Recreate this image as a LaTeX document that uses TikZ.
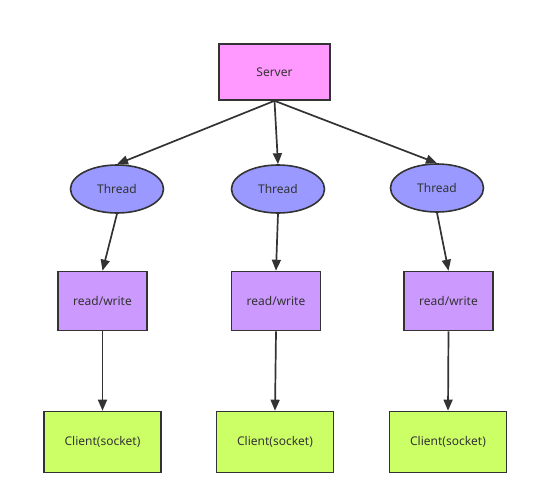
\documentclass[tikz,border=0pt]{standalone}
\usepackage{fontspec}
\setmainfont{Noto Sans}
\usetikzlibrary{arrows.meta,shapes.geometric}
\definecolor{serverpink}{HTML}{FF99FF}
\definecolor{threadblue}{HTML}{9999FF}
\definecolor{rwpurple}{HTML}{CC99FF}
\definecolor{clientgreen}{HTML}{CCFF66}
\definecolor{linecol}{HTML}{333333}
\definecolor{textcol}{HTML}{333333}
\begin{document}
\begin{tikzpicture}[x=1pt,y=-1pt,
  box/.style={draw=linecol,line width=1.6pt,inner sep=0pt,font=\fontsize{12}{14}\selectfont,text=textcol},
  threadnode/.style={box,ellipse,fill=threadblue,minimum width=93pt,minimum height=48pt},
  rwbox/.style={box,rectangle,fill=rwpurple,minimum width=89pt,minimum height=59pt},
  clientbox/.style={box,rectangle,fill=clientgreen,minimum width=117pt,minimum height=61pt},
  conn/.style={draw=linecol,line width=1.7pt,-{Triangle[length=11pt,width=9pt]}}]
\useasboundingbox (0,0) rectangle (554,498);
\node[box,rectangle,fill=serverpink,minimum width=111pt,minimum height=56pt] (s) at (274.5,72) {Server};
\node[threadnode] (t1) at (117,189) {Thread};
\node[threadnode] (t2) at (278,189) {Thread};
\node[threadnode] (t3) at (437,188) {Thread};
\node[rwbox] (r1) at (102.5,301) {read/write};
\node[rwbox] (r2) at (276,301) {read/write};
\node[rwbox] (r3) at (448.5,301) {read/write};
\node[clientbox] (c1) at (102.5,442) {Client(socket)};
\node[clientbox] (c2) at (275,442) {Client(socket)};
\node[clientbox] (c3) at (448,442) {Client(socket)};
\draw[conn] (s.south) -- (t1.north);
\draw[conn] (s.south) -- (t2.north);
\draw[conn] (s.south) -- (t3.north);
\draw[conn] (t1.south) -- (r1.north);
\draw[conn] (t2.south) -- (r2.north);
\draw[conn] (t3.south) -- (r3.north);
\draw[conn] (r1.south) -- (c1.north);
\draw[conn] (r2.south) -- (c2.north);
\draw[conn] (r3.south) -- (c3.north);
\end{tikzpicture}
\end{document}
